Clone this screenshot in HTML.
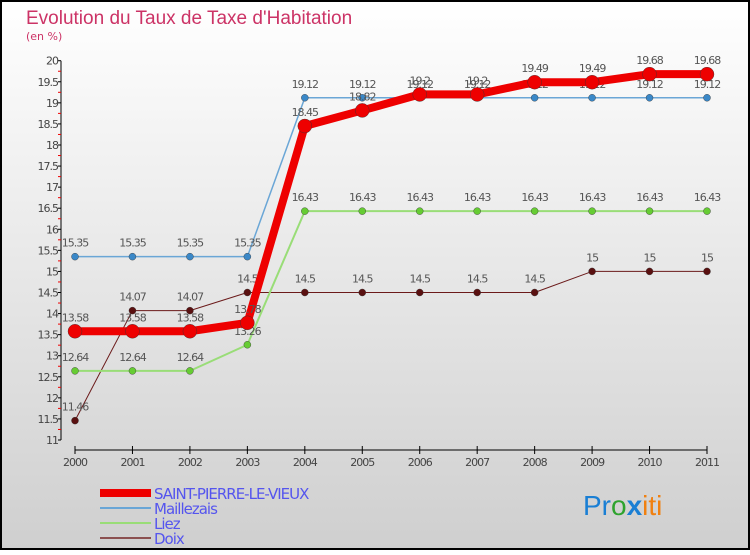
<!DOCTYPE html>
<html><head><meta charset="utf-8"><style>
body{margin:0;}
svg text{font-family:"DejaVu Sans","Liberation Sans",sans-serif;}
</style></head><body>
<svg id="chart" width="750" height="550" xmlns="http://www.w3.org/2000/svg">
<defs><linearGradient id="bg" x1="0" y1="0" x2="0" y2="1"><stop offset="0" stop-color="#ffffff"/><stop offset="1" stop-color="#cfcfcf"/></linearGradient></defs>
<rect x="1" y="1" width="748" height="548" fill="url(#bg)" stroke="#000" stroke-width="2"/>
<text x="26" y="24" font-size="19" fill="#cc3366" style="font-family:'Liberation Sans',sans-serif">Evolution du Taux de Taxe d'Habitation</text>
<text x="26" y="40" font-size="11" fill="#cc3366">(en %)</text>
<g id="axes"></g><g id="series"></g><g id="legend"></g>
<text x="583" y="515" font-size="28" fill="#1a7fd4" style="font-family:'Liberation Sans',sans-serif">Pr<tspan fill="#2ea32e">o</tspan><tspan fill="#1a7fd4" font-weight="bold">x</tspan><tspan fill="#f08010">iti</tspan></text>
</svg>
<script>
const years=[2000,2001,2002,2003,2004,2005,2006,2007,2008,2009,2010,2011];
const seriesNames=["SAINT-PIERRE-LE-VIEUX","Maillezais","Liez","Doix"];
const stPierre=[13.58,13.58,13.58,13.78,18.45,18.82,19.2,19.2,19.49,19.49,19.68,19.68];
const maillezais=[15.35,15.35,15.35,15.35,19.12,19.12,19.12,19.12,19.12,19.12,19.12,19.12];
const liez=[12.64,12.64,12.64,13.26,16.43,16.43,16.43,16.43,16.43,16.43,16.43,16.43];
const doix=[11.46,14.07,14.07,14.5,14.5,14.5,14.5,14.5,14.5,15,15,15];
const yTicks=[11,11.5,12,12.5,13,13.5,14,14.5,15,15.5,16,16.5,17,17.5,18,18.5,19,19.5,20];
const NS="http://www.w3.org/2000/svg";
const x=i=>75+i*(707-75)/11;
const y=v=>440-(v-11)*(440-60.7)/9;
function mk(p,tag,a){const e=document.createElementNS(NS,tag);for(const k in a)e.setAttribute(k,a[k]);p.appendChild(e);return e;}
const axes=document.getElementById('axes');
const yl=mk(axes,'line',{x1:61,y1:y(20),x2:61,y2:y(11),stroke:'#000'});


yTicks.forEach(v=>{
 mk(axes,'line',{x1:58,y1:y(v),x2:61,y2:y(v),stroke:'#000'});
 mk(axes,'line',{x1:58,y1:y(v+0.25),x2:61,y2:y(v+0.25),stroke:v<20?'#e00':'none'});
 const t=mk(axes,'text',{x:58,y:y(v)+4,'font-size':11,'text-anchor':'end',fill:'#444','letter-spacing':'-1'});t.textContent=v;
 
 
});
const xl=mk(axes,'line',{x1:x(0),y1:450,x2:x(11),y2:450,stroke:'#000'});


years.forEach((yr,i)=>{
 mk(axes,'line',{x1:x(i),y1:446,x2:x(i),y2:454,stroke:'#000'});
 const t=mk(axes,'text',{x:x(i),y:466,'font-size':11,'text-anchor':'middle',fill:'#444','letter-spacing':'-1'});t.textContent=yr;
 
 
});
const sg=document.getElementById('series');
const defs=[[doix,'#6b1a1a','#5a1010',1,3.5,'doix'],[liez,'#99dd77','#66cc33',2,3.5,'liez'],[maillezais,'#6aa6d6','#3a88c8',1.5,3.5,'maillezais'],[stPierre,'#ee0000','#ee0000',8,7,'saint-pierre-le-vieux']];
defs.forEach(([d,lc,pc,w,r,n])=>{
 const g=mk(sg,'g',{});
 
 
 mk(g,'polyline',{points:d.map((v,i)=>x(i)+','+y(v)).join(' '),fill:'none',stroke:lc,'stroke-width':w,'stroke-linejoin':'round'});
 d.forEach((v,i)=>{
  const c=mk(g,'circle',{cx:x(i),cy:y(v),r:r,fill:pc,stroke:'#333','stroke-width':0.4});
  
  
  const t=mk(g,'text',{x:x(i),y:y(v)-10,'font-size':11,'text-anchor':'middle',fill:'#555','letter-spacing':'-1'});t.textContent=v;
  
  
 });
});
const lg=document.getElementById('legend');
const lstyle=[['#ee0000',8],['#6aa6d6',2],['#99dd77',2],['#8b5050',2]];
seriesNames.forEach((n,i)=>{
 const g=mk(lg,'g',{});
 
 
 const yy=493+i*15;
 mk(g,'line',{x1:100,y1:yy,x2:151,y2:yy,stroke:lstyle[i][0],'stroke-width':lstyle[i][1]});
 const t=mk(g,'text',{x:154,y:yy+6,'font-size':15,fill:'#5555ee','letter-spacing':'-1'});t.textContent=n;
});
</script>
</body></html>
